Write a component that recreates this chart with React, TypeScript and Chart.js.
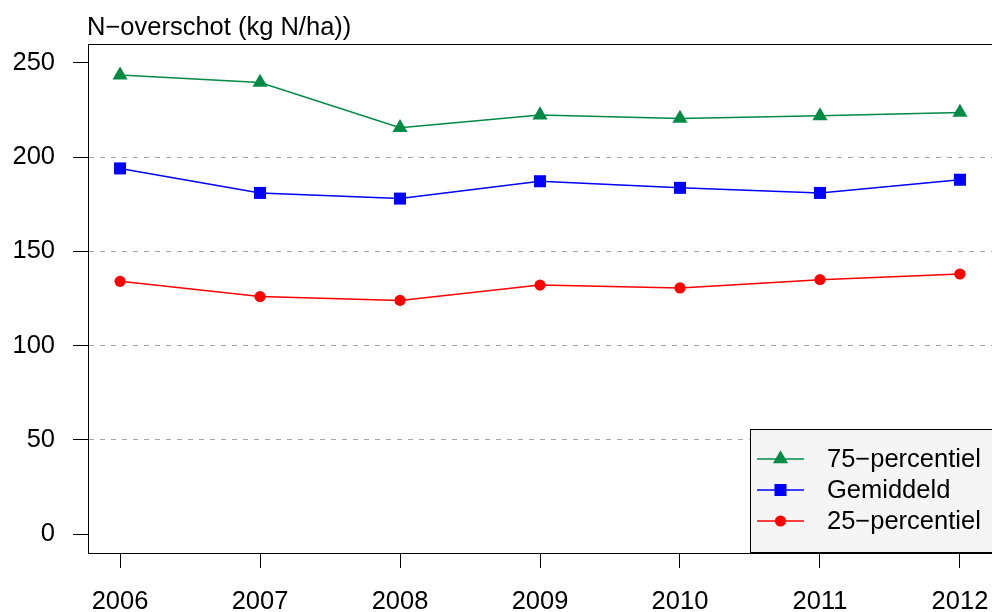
import React, { useEffect, useRef } from "react";
import { Chart, registerables } from "chart.js";

Chart.register(...registerables);

const years = [2006, 2007, 2008, 2009, 2010, 2011, 2012];
const p75 = [243.5, 239.6, 215.6, 222.3, 220.5, 221.9, 223.7];
const gemiddeld = [194.0, 181.0, 178.0, 187.2, 183.7, 181.0, 188.0];
const p25 = [134.1, 126.0, 124.0, 132.1, 130.6, 135.0, 138.0];
const yTicks = [0, 50, 100, 150, 200, 250];
const yTitle = "N\u2212overschot (kg N/ha))";
const seriesLabels = ["75\u2212percentiel", "Gemiddeld", "25\u2212percentiel"];
const seriesColors = ["#008B45", "#0000FF", "#FF0000"];
const seriesStyles = ["triangle", "rect", "circle"];
const seriesRadius = [8.7, 8.5, 5.6];

const FONT_FAMILY = "'Liberation Sans', Arial, Helvetica, sans-serif";
const FONT_SIZE = 25.5;

function drawMarker(ctx: any, style: string, r: number, x: number, y: number, color: string) {
  ctx.save();
  ctx.fillStyle = color;
  ctx.beginPath();
  if (style === "circle") {
    ctx.arc(x, y, r, 0, Math.PI * 2);
  } else if (style === "rect") {
    const s = Math.SQRT1_2 * r;
    ctx.rect(x - s, y - s, 2 * s, 2 * s);
  } else {
    ctx.moveTo(x, y - r);
    ctx.lineTo(x + Math.sin((2 * Math.PI) / 3) * r, y - Math.cos((2 * Math.PI) / 3) * r);
    ctx.lineTo(x + Math.sin((4 * Math.PI) / 3) * r, y - Math.cos((4 * Math.PI) / 3) * r);
    ctx.closePath();
  }
  ctx.fill();
  ctx.restore();
}

const overlayPlugin = {
  id: "overlay",
  afterDraw(chart: any) {
    const ctx = chart.ctx;
    const a = chart.chartArea;
    ctx.save();
    ctx.strokeStyle = "#000";
    ctx.lineWidth = 1;
    ctx.beginPath();
    ctx.moveTo(a.left, Math.round(a.top) + 0.5);
    ctx.lineTo(chart.width, Math.round(a.top) + 0.5);
    ctx.stroke();
    ctx.fillStyle = "#000";
    ctx.font = `${FONT_SIZE}px ${FONT_FAMILY}`;
    ctx.textAlign = "left";
    ctx.textBaseline = "alphabetic";
    ctx.fillText(yTitle, a.left - 1, 35);
    const bx = 750.5, by = 429.5, bw = 260, bh = 123;
    ctx.fillStyle = "#f5f5f5";
    ctx.fillRect(bx, by, bw, bh);
    ctx.strokeStyle = "#000";
    ctx.strokeRect(bx, by, bw, bh);
    const rows = [459, 490, 521];
    chart.data.datasets.forEach((ds: any, i: number) => {
      const yy = rows[i];
      ctx.strokeStyle = ds.borderColor;
      ctx.lineWidth = 1.5;
      ctx.beginPath();
      ctx.moveTo(757, yy);
      ctx.lineTo(804, yy);
      ctx.stroke();
      drawMarker(ctx, ds.pointStyle, ds.pointRadius, 780.5, yy, ds.borderColor);
      ctx.fillStyle = "#000";
      ctx.textBaseline = "middle";
      ctx.fillText(ds.label, 827, yy + 1);
    });
    ctx.restore();
  },
};

export default function App() {
  const ref = useRef<HTMLCanvasElement>(null);
  useEffect(() => {
    if (!ref.current) return;
    const allSeries = [p75, gemiddeld, p25];
    const chart = new Chart(ref.current, {
      type: "line",
      data: {
        datasets: allSeries.map((vals, i) => ({
          label: seriesLabels[i],
          data: years.map((yr, j) => ({ x: yr, y: vals[j] })),
          borderColor: seriesColors[i],
          backgroundColor: seriesColors[i],
          pointBackgroundColor: seriesColors[i],
          pointBorderWidth: 0,
          pointStyle: seriesStyles[i] as any,
          pointRadius: seriesRadius[i],
          borderWidth: 1.5,
          tension: 0,
          fill: false,
        })),
      },
      options: {
        animation: false,
        responsive: false,
        devicePixelRatio: 1,
        layout: { autoPadding: false, padding: { top: 44, left: 0, right: 0, bottom: 0 } },
        plugins: {
          legend: { display: false },
          tooltip: { enabled: false },
          title: { display: false },
        },
        scales: {
          x: {
            type: "linear",
            min: 2005.771,
            max: 2012.229,
            afterFit: (s: any) => {
              s.height = 59;
              s.paddingLeft = 0;
              s.paddingRight = 0;
            },
            afterBuildTicks: (s: any) => {
              s.ticks = years.map((v) => ({ value: v }));
            },
            grid: {
              display: true,
              drawOnChartArea: false,
              drawTicks: true,
              tickLength: 15,
              tickColor: "#000",
              tickWidth: 1,
            },
            border: { display: true, color: "#000", width: 1 },
            ticks: {
              color: "#000",
              padding: 19,
              maxRotation: 0,
              autoSkip: false,
              font: { family: FONT_FAMILY, size: FONT_SIZE },
              callback: (v: any) => String(v),
            },
          },
          y: {
            type: "linear",
            min: -10,
            max: 260,
            afterFit: (s: any) => {
              s.width = 88;
              s.paddingTop = 0;
              s.paddingBottom = 0;
            },
            afterBuildTicks: (s: any) => {
              s.ticks = yTicks.map((v) => ({ value: v }));
            },
            grid: {
              display: true,
              drawOnChartArea: true,
              drawTicks: true,
              tickLength: 15,
              tickColor: "#000",
              tickWidth: 1,
              color: (c: any) =>
                c.tick && c.tick.value > 0 && c.tick.value < 250 ? "#a6a6a6" : "rgba(0,0,0,0)",
              lineWidth: 1,
            },
            border: { display: true, color: "#000", width: 1, dash: [5, 6] },
            ticks: {
              color: "#000",
              padding: 18,
              autoSkip: false,
              font: { family: FONT_FAMILY, size: FONT_SIZE },
              callback: (v: any) => String(v),
            },
          },
        },
      },
      plugins: [overlayPlugin],
    });
    return () => chart.destroy();
  }, []);
  return (
    <div style={{ position: "fixed", left: 0, top: 0, width: 992, height: 612, background: "#fff", overflow: "hidden" }}>
      <canvas ref={ref} width={992} height={612} style={{ display: "block" }} />
    </div>
  );
}
